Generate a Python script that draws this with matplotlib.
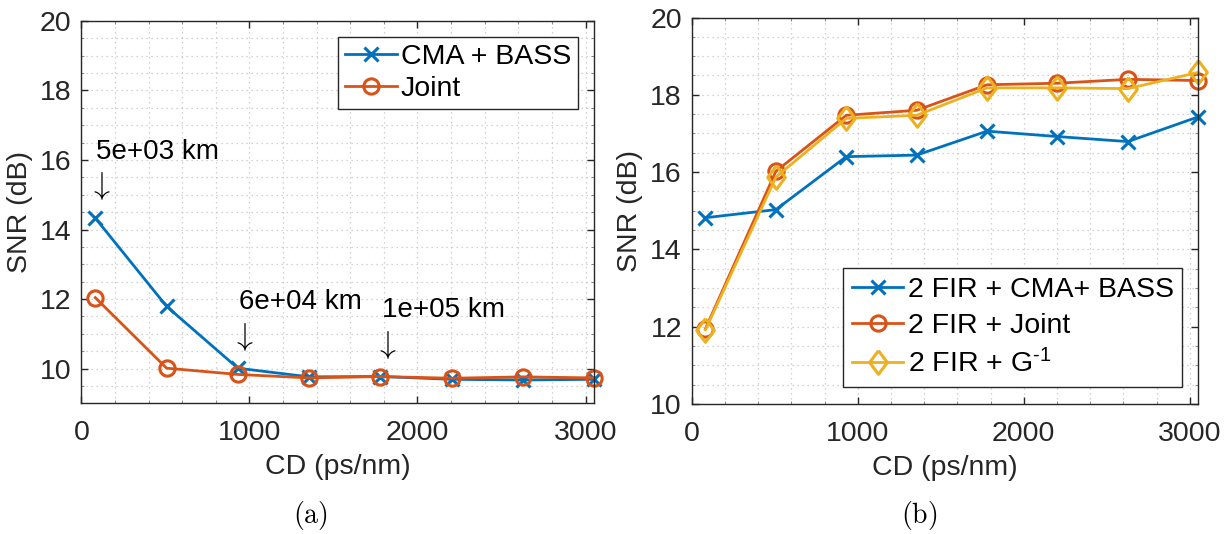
import matplotlib
matplotlib.use('Agg')
import matplotlib.pyplot as plt
from matplotlib.ticker import MultipleLocator

plt.rcParams['font.family'] = ['Liberation Sans', 'DejaVu Sans']
plt.rcParams['mathtext.fontset'] = 'custom'
plt.rcParams['mathtext.rm'] = 'Liberation Sans'
plt.rcParams['mathtext.it'] = 'Liberation Sans:italic'

# data
cd = [83, 507, 931, 1355, 1779, 2203, 2627, 3051]

snr_cma_bass = [14.33, 11.79, 10.01, 9.76, 9.77, 9.69, 9.67, 9.69]
snr_joint = [12.04, 10.01, 9.83, 9.73, 9.77, 9.72, 9.76, 9.73]

snr_fir_cma = [14.82, 15.03, 16.40, 16.44, 17.06, 16.92, 16.79, 17.43]
snr_fir_joint = [11.95, 16.02, 17.47, 17.60, 18.26, 18.30, 18.40, 18.37]
snr_fir_ginv = [11.92, 15.87, 17.39, 17.47, 18.18, 18.18, 18.16, 18.58]

dist_labels = ['5e+03 km', '6e+04 km', '1e+05 km']
label_xy = [(86, 16.22), (936, 11.92), (1786, 11.68)]
arrow_xy = [(40, 15.24), (890, 10.92), (1740, 10.68)]

blue = '#0072BD'
orange = '#D95319'
yellow = '#EDB120'
dark = '#262626'
fs = 20.5
diamond = [(0, 1), (0.75, 0), (0, -1), (-0.75, 0), (0, 1)]

fig = plt.figure(figsize=(12.29, 5.34), dpi=100)
ax1 = fig.add_axes([0.0662, 0.2448, 0.4172, 0.7159])
ax2 = fig.add_axes([0.5628, 0.2434, 0.4122, 0.7238])


def style(ax, ylo, yhi):
    ax.set_xlim(0, cd[-1])
    ax.set_ylim(ylo, yhi)
    ax.xaxis.set_major_locator(MultipleLocator(1000))
    ax.xaxis.set_minor_locator(MultipleLocator(200))
    ax.yaxis.set_major_locator(MultipleLocator(2))
    ax.yaxis.set_minor_locator(MultipleLocator(0.5))
    ax.grid(True, which='both', linestyle=(0, (1, 3)), color='#c4c4c4', linewidth=0.9)
    ax.set_axisbelow(True)
    ax.tick_params(which='major', direction='in', length=5, width=1, top=True, right=True,
                   labelsize=fs, colors=dark)
    ax.tick_params(axis='x', which='major', pad=12)
    ax.tick_params(axis='y', which='major', pad=7)
    ax.tick_params(which='minor', direction='in', length=2, width=0.6, top=True, right=True,
                   colors='#777777')
    for s in ax.spines.values():
        s.set_color(dark)
        s.set_linewidth(1.0)
    ax.set_xlabel('CD (ps/nm)', fontsize=fs, color=dark, labelpad=6)
    ax.set_ylabel('SNR (dB)', fontsize=fs, color=dark, labelpad=5)


ax1.plot(cd, snr_cma_bass, color=blue, lw=2, marker='x', ms=10, mew=2.2, label='CMA + BASS',
         clip_on=False)
ax1.plot(cd, snr_joint, color=orange, lw=2, marker='o', ms=11, mew=2.2, mfc='none',
         label='Joint', clip_on=False)
style(ax1, 9, 20)
for t, (tx, ty), (axx, ay) in zip(dist_labels, label_xy, arrow_xy):
    ax1.text(tx, ty, t, fontsize=20, ha='left', va='center', color='black')
    ax1.text(axx, ay, r'$\downarrow$', fontsize=23, ha='left', va='center', color='black',
             math_fontfamily='cm')
leg1 = ax1.legend(loc='upper right', bbox_to_anchor=(0.969, 0.958), borderaxespad=0,
                  fontsize=fs, fancybox=False, framealpha=1, edgecolor=dark,
                  handlelength=1.8, handletextpad=0.15, borderpad=0.25, labelspacing=0.2)
leg1.get_frame().set_linewidth(1.0)

ax2.plot(cd, snr_fir_cma, color=blue, lw=2, marker='x', ms=10, mew=2.2,
         label='2 FIR + CMA+ BASS', clip_on=False)
ax2.plot(cd, snr_fir_joint, color=orange, lw=2, marker='o', ms=11, mew=2.2, mfc='none',
         label='2 FIR + Joint', clip_on=False)
ax2.plot(cd, snr_fir_ginv, color=yellow, lw=2, marker=diamond, ms=17, mew=2.2, mfc='none',
         label=r'2 FIR + G$^{\text{-1}}$', clip_on=False)
style(ax2, 10, 20)
leg2 = ax2.legend(loc='lower right', bbox_to_anchor=(0.968, 0.045), borderaxespad=0,
                  fontsize=fs, fancybox=False, framealpha=1, edgecolor=dark,
                  handlelength=1.8, handletextpad=0.15, borderpad=0.3, labelspacing=0.35)
leg2.get_frame().set_linewidth(1.0)

fig.text(310 / 1229, 1 - 515 / 534, r'$\mathrm{(a)}$', fontsize=20, ha='center', va='center',
         math_fontfamily='cm')
fig.text(919 / 1229, 1 - 515 / 534, r'$\mathrm{(b)}$', fontsize=20, ha='center', va='center',
         math_fontfamily='cm')

fig.savefig('out.png', dpi=100)
